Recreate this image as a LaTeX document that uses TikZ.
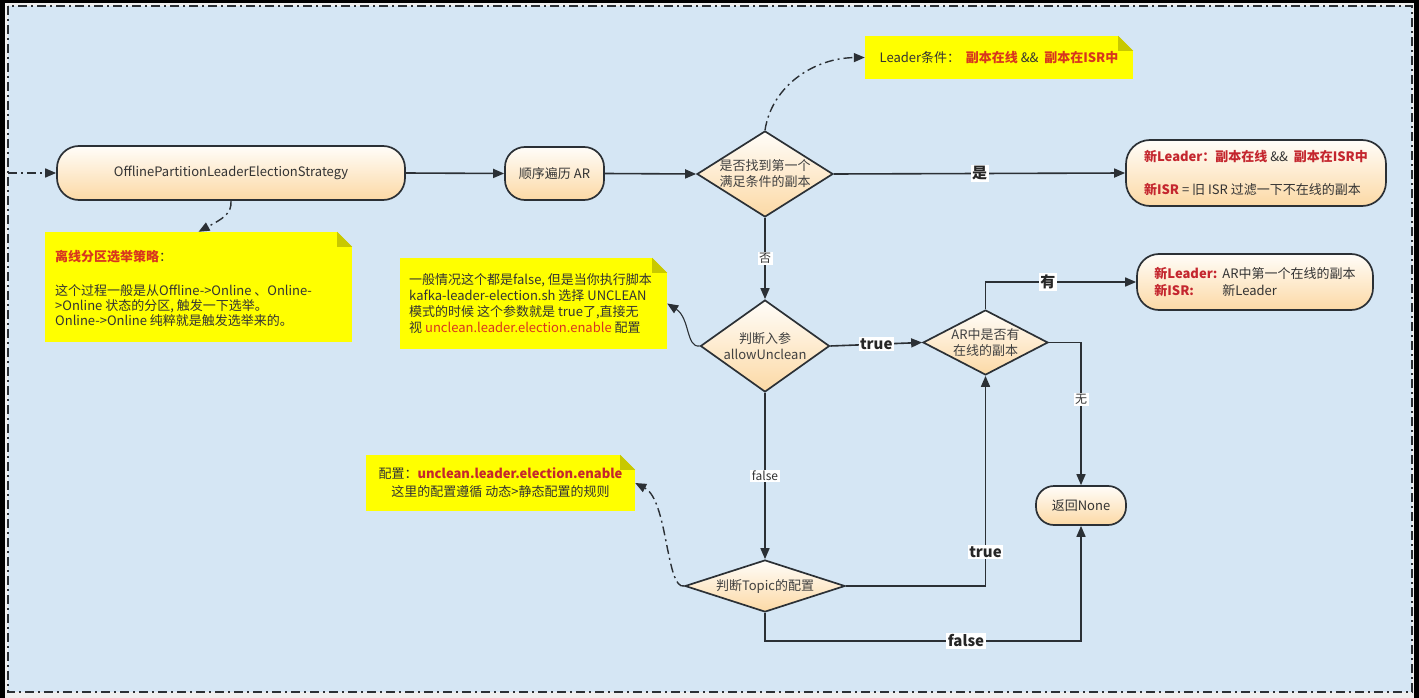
\documentclass[tikz,border=0pt]{standalone}
\usepackage{fontspec}
\setmainfont{Noto Sans CJK SC}
\usetikzlibrary{arrows.meta,shapes.geometric}
\definecolor{bgblue}{HTML}{D5E6F4}
\definecolor{outgray}{HTML}{EFEFEF}
\definecolor{edge}{HTML}{2B3035}
\definecolor{txt}{HTML}{333333}
\definecolor{topc}{HTML}{FFFDF9}
\definecolor{botc}{HTML}{FCD9A5}
\definecolor{noteY}{HTML}{FFFF00}
\definecolor{foldY}{HTML}{C8C800}
\definecolor{rd}{HTML}{C4262E}
\definecolor{ro}{HTML}{D8361E}
\newcommand{\myfs}[2]{\fontsize{#1}{#2}\selectfont}
\newcommand{\fold}[1]{%
  \fill[bgblue] ([xshift=-15pt]#1.north east) -- (#1.north east) -- ([yshift=-15pt]#1.north east) -- cycle;
  \fill[foldY] ([xshift=-15pt]#1.north east) -- ([xshift=-15pt,yshift=-15pt]#1.north east) -- ([yshift=-15pt]#1.north east) -- cycle;}
\tikzset{
  every node/.style={text=txt},
  term/.style={draw=edge, line width=1.7pt, rounded corners=#1, top color=topc, bottom color=botc, inner sep=0pt, font=\myfs{13}{16}},
  dia/.style={diamond, draw=edge, line width=1.7pt, top color=topc, bottom color=botc, inner sep=0pt},
  dtext/.style={align=center, font=\myfs{13}{16}, text=black!75, inner sep=0pt},
  note/.style={fill=noteY, inner sep=0pt, font=\myfs{13}{15}},
  ntext/.style={align=left, font=\myfs{13}{15}, inner sep=0pt},
  flow/.style={draw=edge, line width=1.6pt, -{Triangle[length=11pt,width=9pt]}},
  ddash/.style={dash pattern=on 9pt off 4pt on 2pt off 4pt},
  lab/.style={fill=white, inner sep=1.5pt, font=\myfs{15}{17}\bfseries, text=black!85},
  slab/.style={fill=white, inner sep=1.5pt, font=\myfs{12}{14}}
}
\begin{document}
\begin{tikzpicture}[x=1pt,y=-1pt]
\useasboundingbox (0,0) rectangle (1419,698);
\fill[black] (0,0) rectangle (1419,698);
\fill[outgray] (5,3) rectangle (1414,698);
\fill[bgblue] (8,6) rectangle (1412,692);
\draw[edge, line width=1.6pt, ddash] (8,6) rectangle (1412,692);

% terminals
\node[term=22, minimum width=348, minimum height=54] (start) at (231,173) {OfflinePartitionLeaderElectionStrategy};
\node[term=20, minimum width=99, minimum height=53] (ar) at (554.5,173.5) {顺序遍历 AR};
\node[term=24, minimum width=260, minimum height=66, align=left] (res1) at (1256,173)
  {\textcolor{rd}{\bfseries 新Leader：副本在线} \&\& \ \textcolor{rd}{\bfseries 副本在ISR中}\\[17pt]\textcolor{rd}{\bfseries 新ISR} = 旧 ISR 过滤一下不在线的副本};
\node[term=22, minimum width=236, minimum height=56, align=left] (res2) at (1255,282)
  {\makebox[68pt][l]{\textcolor{rd}{\bfseries 新Leader:}}AR中第一个在线的副本\\[1pt]\makebox[68pt][l]{\textcolor{rd}{\bfseries 新ISR:}}新Leader};
\node[term=18, minimum width=90, minimum height=39] (none) at (1081,505.5) {返回None};

% diamonds
\node[dia, minimum width=136, minimum height=86] (d1) at (765,174) {};
\node[dtext] (d1t) at (d1) {是否找到第一个\\满足条件的副本};
\node[dia, minimum width=129, minimum height=92] (d2) at (765,346) {};
\node[dtext] (d2t) at (d2) {判断入参\\allowUnclean};
\node[dia, minimum width=125, minimum height=65] (d3) at (985.5,342.5) {};
\node[dtext] (d3t) at (d3) {AR中是否有\\在线的副本};
\node[dia, minimum width=160, minimum height=52] (d4) at (765,586) {};
\node[dtext] (d4t) at (d4) {判断Topic的配置};

% notes
\node[note, minimum width=268, minimum height=43] (n0) at (999,57.5)
  {Leader条件：\ \ \textcolor{ro}{\bfseries 副本在线} \&\& \ \textcolor{ro}{\bfseries 副本在ISR中}};
\fold{n0}
\node[note, minimum width=307, minimum height=110] (n1) at (198.5,287) {};
\fold{n1}
\node[ntext, anchor=west] (n1t) at (55,288)
  {\textcolor{ro}{\bfseries 离线分区选举策略}：\\[19pt]这个过程一般是从Offline->Online 、Online-\\>Online 状态的分区, 触发一下选举。\\Online->Online 纯粹就是触发选举来的。};
\node[note, minimum width=267, minimum height=91] (n2) at (533.5,303.5) {};
\fold{n2}
\node[ntext, anchor=west, font=\myfs{13}{15.7}] (n2t) at (409,303.5)
  {一般情况这个都是false, 但是当你执行脚本\\kafka-leader-election.sh 选择 UNCLEAN\\模式的时候 这个参数就是 true了,直接无\\视 \textcolor{ro}{unclean.leader.election.enable} 配置};
\node[note, minimum width=269, minimum height=56, align=center, font=\myfs{13}{18}] (n3) at (500.5,483)
  {配置：\textcolor{rd}{\bfseries unclean.leader.election.enable}\\这里的配置遵循 动态>静态配置的规则};
\fold{n3}

% connectors
\coordinate (in) at (8,173);
\coordinate (b4) at (765,641);
\draw[flow, ddash] (in) -- (start.west);
\draw[flow] (start.east) -- (ar.west);
\draw[flow] (ar.east) -- (d1.west);
\draw[flow] (d1.east) -- node[lab]{是} (res1.west);
\draw[flow] (d1.south) -- node[slab]{否} (d2.north);
\draw[flow] (d2.east) -- node[lab]{true} (d3.west);
\draw[flow] (d3.north) |- node[lab, pos=0.707]{有} (res2.west);
\draw[flow] (d3.east) -| node[slab, pos=0.7]{无} (none.north);
\draw[flow] (d2.south) -- node[slab]{false} (d4.north);
\draw[flow] (d4.east) -| node[lab, pos=0.58]{true} (d3.south);
\draw[flow] (d4.south) -- (b4) -| node[lab, pos=0.318]{false} (none.south);

% note connectors
\draw[flow, line width=1.4pt, ddash] (d1.north) .. controls (772,85) and (815,58) .. (n0.west);
\draw[flow, line width=1.4pt, ddash] (start.south) .. controls (232,214) and (222,219) .. (n1.north);
\draw[flow, line width=1.1pt] (d2.west) .. controls (686,348) and (690,318) .. (n2.east);
\draw[flow, line width=1.4pt, ddash] (d4.west) .. controls (666,590) and (668,500) .. (n3.east);
\end{tikzpicture}
\end{document}
